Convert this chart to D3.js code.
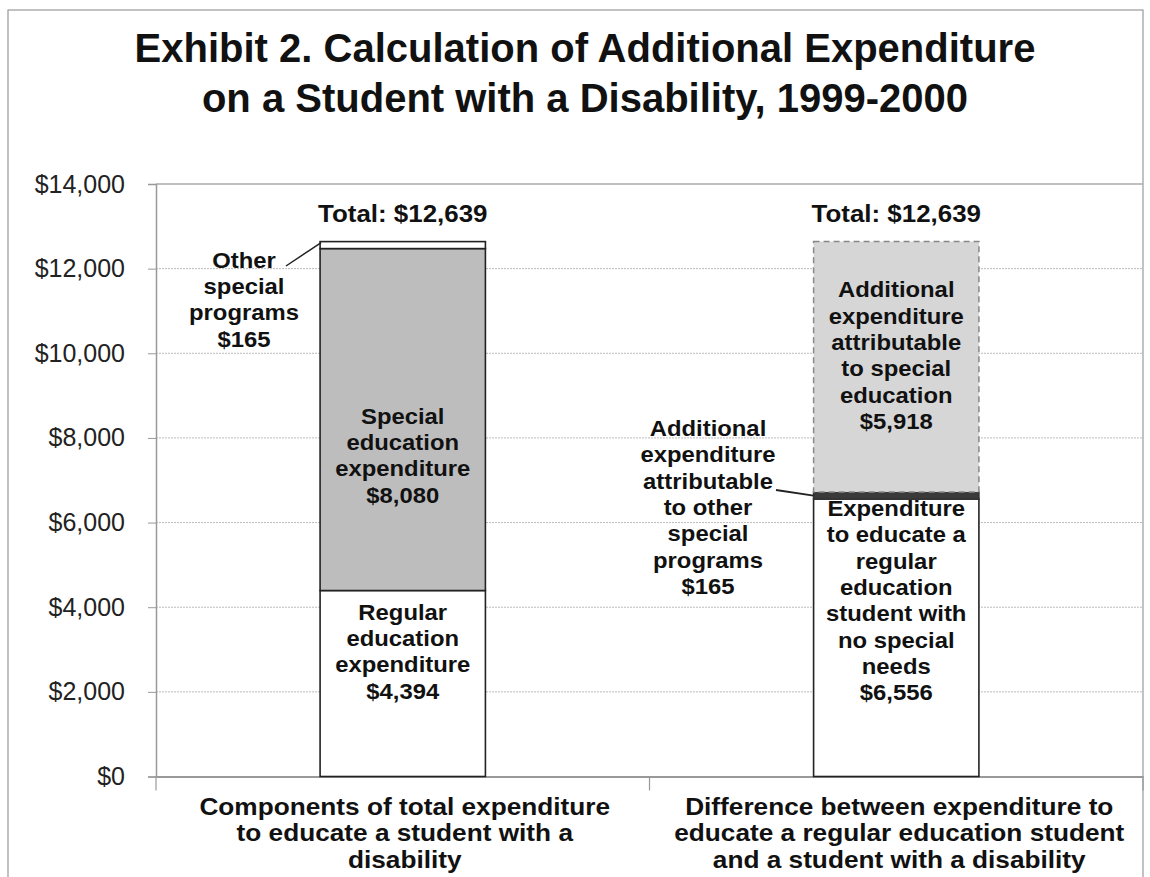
<!DOCTYPE html>
<html><head><meta charset="utf-8">
<script src="https://cdn.jsdelivr.net/npm/d3@7"></script>
<style>body{margin:0;background:#fff;} svg{display:block;font-family:"Liberation Sans",Arial,sans-serif;}</style>
</head><body><svg id="c" width="1150" height="877"></svg>
<script>
const categories = ["Components of total expenditure to educate a student with a disability",
                    "Difference between expenditure to educate a regular education student and a student with a disability"];
const categoryLines = [["Components of total expenditure","to educate a student with a","disability"],
                       ["Difference between expenditure to","educate a regular education student","and a student with a disability"]];
const segmentKeys = ["base","middle","top"];
const baseValues   = [4394, 6556];
const middleValues = [8080, 165];
const topValues    = [165, 5918];
const totals = [12639, 12639];
const yTicks = [0,2000,4000,6000,8000,10000,12000,14000];
const titleLines = ["Exhibit 2. Calculation of Additional Expenditure","on a Student with a Disability, 1999-2000"];
const segLabels = [
  [["Regular","education","expenditure","$4,394"], ["Special","education","expenditure","$8,080"], null],
  [["Expenditure","to educate a","regular","education","student with","no special","needs","$6,556"], null,
   ["Additional","expenditure","attributable","to special","education","$5,918"]]
];
const calloutLabels = [["Other","special","programs","$165"],
  ["Additional","expenditure","attributable","to other","special","programs","$165"]];

const svg = d3.select("#c");
const X0 = 156, X1 = 1143, Y0 = 776.5, Y1 = 184;
const x = d3.scaleBand().domain(categories).range([X0, X1]).paddingInner(0.665).paddingOuter(0.3325);
const y = d3.scaleLinear().domain([0,14000]).range([Y0, Y1]);
const fmt = d => "$" + d3.format(",")(d);

// outer frame
svg.append("rect").attr("x",8).attr("y",10).attr("width",1135).attr("height",880)
  .attr("fill","none").attr("stroke","#999").attr("stroke-width",1.2);

// title
svg.append("g").selectAll("text").data(titleLines).join("text")
  .attr("x",585).attr("y",(d,i)=>62+i*50).attr("text-anchor","middle")
  .attr("font-size",40).attr("font-weight","bold").attr("fill","#111").text(d=>d);

// gridlines
svg.append("g").selectAll("line").data(yTicks.filter(t=>t>0)).join("line")
  .attr("x1",X0).attr("x2",X1).attr("y1",d=>y(d)).attr("y2",d=>y(d))
  .attr("stroke",d=>d===14000?"#aaa":"#bbb").attr("stroke-width",d=>d===14000?1.5:1)
  .attr("stroke-dasharray",d=>d===14000?null:"2,1");

// y axis
const ya = svg.append("g").attr("transform",`translate(${X0},0)`)
  .call(d3.axisLeft(y).tickValues(yTicks).tickFormat(fmt).tickSize(8).tickPadding(23));
ya.select(".domain").attr("stroke","#999").attr("stroke-width",1.5);
ya.selectAll(".tick line").attr("stroke","#999");
ya.selectAll("text").attr("font-size",25).attr("fill","#222").attr("font-family","Liberation Sans, Arial, sans-serif");

// x axis
const xa = svg.append("g").attr("transform",`translate(0,${Y0})`)
  .call(d3.axisBottom(x).tickSize(0).tickFormat(""));
xa.select(".domain").attr("stroke","#999").attr("stroke-width",2);
svg.append("g").selectAll("line").data([X0, (x(categories[0])+x.bandwidth()/2 + x(categories[1])+x.bandwidth()/2)/2, X1]).join("line")
  .attr("x1",d=>d).attr("x2",d=>d).attr("y1",Y0).attr("y2",Y0+14).attr("stroke","#999").attr("stroke-width",1.2);

// stretched multi-line text helper
function multiline(cx, baselines, lines, fs, sx){
  const g = svg.append("g").attr("transform",`translate(${cx},0) scale(${sx},1)`);
  g.selectAll("text").data(lines).join("text")
    .attr("x",0).attr("y",(d,j)=>baselines[j]).attr("text-anchor","middle")
    .attr("font-size",fs).attr("font-weight","bold").attr("fill","#111").text(d=>d);
}

// category labels
categories.forEach((c,i)=>{
  multiline(x(c)+x.bandwidth()/2 + (i===1?3:2), categoryLines[i].map((d,j)=>815+j*26.5), categoryLines[i], 23, 1.14);
});

// stacked data
const rows = categories.map((c,i)=>({cat:c, base:baseValues[i], middle:middleValues[i], top:topValues[i]}));
const stack = d3.stack().keys(segmentKeys)(rows);
const styles = [
  {base:{fill:"#fff",stroke:"#222",dash:null}, middle:{fill:"#bdbdbd",stroke:"#222",dash:null}, top:{fill:"#fff",stroke:"#222",dash:null}},
  {base:{fill:"#fff",stroke:"#222",dash:null}, middle:{fill:"#3a3a3a",stroke:"#333",dash:null}, top:{fill:"#d6d6d6",stroke:"#888",dash:"6,4"}}
];
stack.forEach(layer=>{
  svg.append("g").selectAll("rect").data(layer).join("rect")
    .attr("x",d=>x(d.data.cat)).attr("width",x.bandwidth())
    .attr("y",d=>y(d[1])).attr("height",d=>y(d[0])-y(d[1]))
    .attr("fill",(d,i)=>styles[i][layer.key].fill)
    .attr("stroke",(d,i)=>styles[i][layer.key].stroke)
    .attr("stroke-width",(d,i)=>styles[i][layer.key].dash?1.5:1.6)
    .attr("stroke-dasharray",(d,i)=>styles[i][layer.key].dash);
});

// totals
categories.forEach((c,i)=>{
  multiline(x(c)+x.bandwidth()/2, [222], ["Total: " + fmt(totals[i])], 24, 1.08);
});

// in-bar labels
const FS = 22.5;
function block(cx, cy, lines){
  const lh = 26.3;
  multiline(cx, lines.map((d,j)=>cy + (j-(lines.length-1)/2)*lh + FS*0.36), lines, FS, 1.06);
}
stack.forEach(layer=>{
  layer.forEach((d,i)=>{
    const lab = segLabels[i][segmentKeys.indexOf(layer.key)];
    if(!lab) return;
    const cx = x(d.data.cat)+x.bandwidth()/2;
    let cy;
    if(i===0 && layer.key==="base") cy = 651;
    else if(i===0 && layer.key==="middle") cy = 455;
    else if(i===1 && layer.key==="base") cy = 600;
    else cy = 355;
    block(cx, cy, lab);
  });
});

// callouts
const topL = stack[2][0];
block(244, 299, calloutLabels[0]);
svg.append("line").attr("x1",286).attr("y1",266).attr("x2",x(categories[0])+1).attr("y2",y(topL[1])+1)
  .attr("stroke","#222").attr("stroke-width",1.5);
const midR = stack[1][1];
block(708, 507, calloutLabels[1]);
svg.append("line").attr("x1",776).attr("y1",490).attr("x2",x(categories[1])).attr("y2",(y(midR[0])+y(midR[1]))/2)
  .attr("stroke","#222").attr("stroke-width",1.8);
</script></body></html>
